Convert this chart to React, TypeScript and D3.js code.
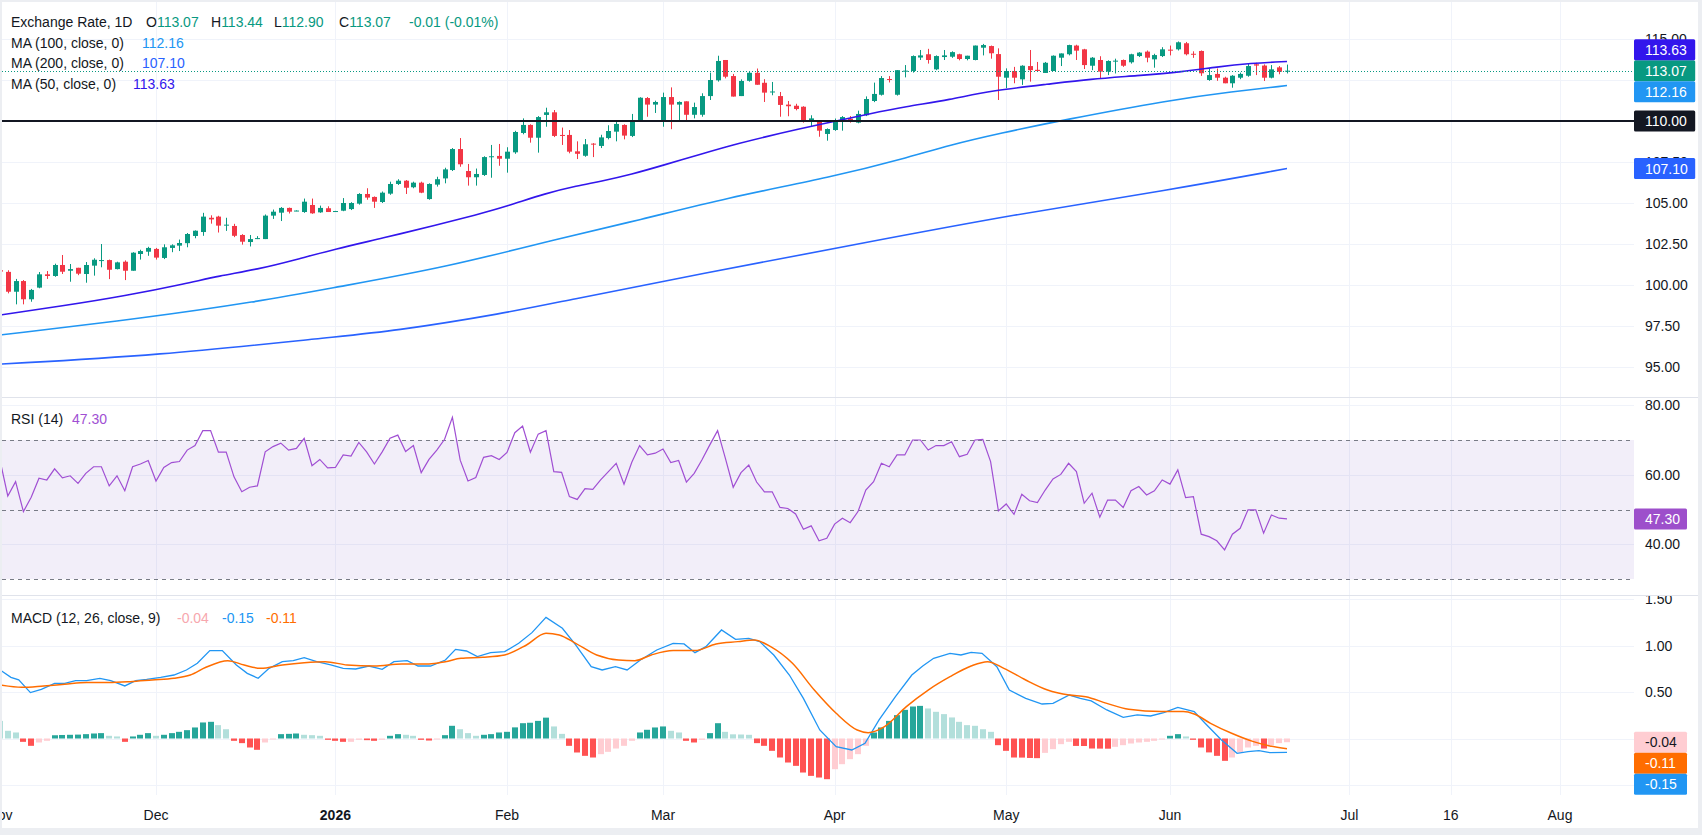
import { useEffect, useRef } from 'react';
import * as d3 from 'd3';

// daily candles, bar 0 = 3 Nov 2025
const opens = [
  100.9, 100.8, 99.59, 100.24, 99.13, 99.84, 100.65, 100.55, 101.22, 100.87,
  101.05, 100.67, 101.18, 101.48, 101.52, 100.97, 101.42, 100.87, 101.89, 102.03,
  102.2, 101.65, 102.26, 102.4, 102.55, 102.99, 103.23, 104.1, 104.17, 103.64,
  103.6, 103.05, 102.62, 102.83, 102.8, 104.23, 104.41, 104.7, 104.52, 104.45,
  104.88, 104.43, 104.68, 104.49, 104.53, 104.63, 104.96, 105.55, 105.37, 105.06,
  105.57, 106.16, 106.36, 105.96, 106.24, 105.24, 106.12, 106.5, 107.01, 108.29,
  106.95, 106.57, 106.71, 107.8, 107.87, 107.7, 108.09, 109.27, 109.76, 108.98,
  110.37, 110.53, 109.15, 109.15, 108.15, 107.88, 108.62, 108.48, 108.96, 109.35,
  109.76, 109.09, 110.0, 111.4, 111.0, 110.0, 111.46, 111.0, 111.2, 110.38,
  110.38, 111.52, 112.48, 113.72, 112.74, 111.52, 112.45, 112.94, 112.33, 111.78,
  111.52, 111.0, 110.93, 110.87, 109.96, 110.0, 109.21, 109.45, 109.94, 110.14,
  109.9, 110.35, 111.22, 111.6, 112.56, 111.6, 113.05, 113.05, 113.87, 114.07,
  113.15, 113.9, 113.92, 114.07, 113.78, 113.72, 114.47, 114.57, 114.08, 112.64,
  113.05, 112.54, 113.35, 113.12, 112.93, 113.05, 113.86, 114.07, 114.6, 114.37,
  113.37, 113.72, 113.01, 113.66, 113.72, 113.58, 113.96, 114.23, 113.76, 113.96,
  114.35, 114.37, 114.74, 114.1, 114.27, 112.5, 112.87, 112.64, 112.3, 112.64,
  112.76, 113.46, 113.38, 112.64, 113.27, 113.07,
];
const highs = [
  100.95, 100.9, 100.37, 100.3, 99.76, 100.79, 100.85, 101.3, 101.83, 101.28,
  101.05, 101.4, 101.63, 102.5, 101.55, 101.42, 101.5, 102.0, 102.15, 102.33,
  102.26, 102.48, 102.48, 102.77, 103.17, 103.33, 104.4, 104.25, 104.22, 104.1,
  103.73, 103.1, 103.05, 102.98, 104.3, 104.6, 104.75, 104.72, 104.55, 105.27,
  105.27, 104.84, 104.8, 104.52, 105.3, 105.05, 105.6, 105.9, 105.4, 105.7,
  106.3, 106.45, 106.4, 106.3, 106.3, 106.2, 106.6, 107.15, 108.35, 108.96,
  107.38, 107.1, 107.85, 108.54, 108.6, 108.4, 109.4, 110.16, 109.8, 110.3,
  110.81, 110.67, 109.6, 109.45, 108.76, 108.9, 108.65, 109.16, 109.74, 110.06,
  109.8, 110.43, 111.45, 111.46, 111.24, 111.73, 112.05, 111.2, 111.2, 111.12,
  111.69, 112.95, 113.98, 113.72, 112.87, 112.54, 113.05, 113.2, 112.55, 112.38,
  111.77, 111.22, 111.05, 110.9, 110.35, 110.05, 109.55, 110.15, 110.3, 110.3,
  110.63, 111.5, 112.34, 112.74, 112.74, 113.1, 113.41, 114.0, 114.33, 114.4,
  114.0, 114.33, 114.25, 114.1, 113.98, 114.6, 114.7, 114.6, 114.43, 113.21,
  113.3, 113.4, 114.33, 113.6, 113.6, 114.0, 114.12, 114.65, 114.65, 114.4,
  113.9, 113.95, 113.7, 113.8, 113.75, 114.1, 114.2, 114.3, 114.1, 114.5,
  114.6, 114.85, 114.82, 114.25, 114.3, 113.17, 113.2, 112.7, 112.8, 112.95,
  113.5, 113.55, 113.45, 113.41, 113.35, 113.44,
];
const lows = [
  100.75, 99.49, 98.82, 98.82, 98.98, 99.8, 100.37, 100.5, 100.67, 100.2,
  100.6, 100.14, 100.57, 101.08, 100.36, 100.95, 100.3, 100.87, 101.55, 101.78,
  101.55, 101.58, 102.0, 102.07, 102.3, 102.85, 103.0, 103.74, 103.2, 103.3,
  102.92, 102.46, 102.35, 102.8, 102.8, 104.03, 103.9, 104.36, 104.5, 104.4,
  104.34, 104.4, 104.45, 104.47, 104.5, 104.57, 104.9, 105.2, 104.7, 105.0,
  105.5, 106.1, 105.55, 105.9, 105.6, 105.2, 106.0, 106.2, 106.95, 107.21,
  106.06, 106.06, 106.65, 106.54, 107.27, 106.85, 108.0, 109.19, 108.68, 108.07,
  109.65, 109.02, 108.54, 108.03, 107.68, 107.82, 107.8, 108.35, 108.88, 108.76,
  108.88, 109.02, 109.95, 110.26, 110.49, 109.65, 109.5, 109.96, 110.06, 110.16,
  110.26, 111.28, 112.4, 112.6, 111.49, 111.52, 112.4, 112.21, 111.16, 111.57,
  110.26, 110.29, 110.65, 109.9, 109.65, 109.04, 108.8, 109.4, 109.41, 109.9,
  109.86, 110.3, 111.15, 111.55, 112.35, 111.55, 112.66, 112.95, 113.72, 113.5,
  113.1, 113.72, 113.85, 113.7, 113.7, 113.7, 114.0, 113.8, 111.28, 112.0,
  112.3, 112.2, 112.4, 113.0, 112.93, 113.05, 113.35, 114.0, 113.72, 113.17,
  113.1, 112.6, 112.8, 112.9, 113.3, 113.5, 113.9, 113.58, 113.25, 113.9,
  114.0, 114.3, 114.0, 113.85, 112.75, 112.45, 112.45, 112.3, 112.03, 112.55,
  112.7, 112.8, 112.44, 112.6, 112.85, 112.9,
];
const closes = [
  100.82, 99.59, 100.24, 99.13, 99.7, 100.65, 100.55, 101.22, 100.81, 100.97,
  100.69, 101.22, 101.54, 101.52, 100.93, 101.38, 100.87, 101.97, 102.07, 102.26,
  101.67, 102.3, 102.42, 102.56, 103.11, 103.31, 104.17, 104.0, 103.62, 103.68,
  103.0, 102.64, 102.8, 102.86, 104.23, 104.47, 104.7, 104.47, 104.54, 105.08,
  104.37, 104.7, 104.45, 104.51, 105.0, 105.0, 105.55, 105.33, 105.08, 105.63,
  106.16, 106.36, 105.93, 106.24, 105.63, 106.16, 106.45, 107.05, 108.29, 107.36,
  106.57, 106.77, 107.8, 107.85, 107.7, 108.13, 109.33, 109.76, 108.98, 110.24,
  110.53, 109.09, 109.13, 108.13, 108.0, 108.58, 108.6, 109.0, 109.39, 109.82,
  109.11, 110.06, 111.42, 111.0, 111.16, 111.46, 111.0, 111.16, 110.38, 110.85,
  111.52, 112.5, 113.66, 112.7, 111.49, 112.44, 112.94, 112.21, 111.73, 111.8,
  110.98, 110.9, 110.73, 109.96, 110.16, 109.41, 109.51, 110.04, 110.24, 110.02,
  110.43, 111.34, 111.65, 112.62, 112.5, 113.1, 113.07, 113.96, 114.0, 113.72,
  113.96, 114.0, 114.2, 113.78, 113.98, 114.6, 114.63, 114.13, 112.7, 113.05,
  112.64, 113.37, 113.1, 113.05, 113.55, 113.98, 114.12, 114.63, 114.29, 113.41,
  113.86, 113.01, 113.66, 113.68, 113.37, 114.07, 114.17, 113.86, 114.02, 114.37,
  114.33, 114.8, 114.07, 114.05, 112.91, 112.8, 112.64, 112.3, 112.76, 112.87,
  113.35, 113.38, 112.64, 113.15, 113.0, 113.07,
];

// moving averages, [bar, value]
const ma50 = [
  [0, 98.17], [8, 98.72], [16, 99.33], [24, 100.1], [28, 100.55], [33, 100.95],
  [38, 101.55], [43, 102.2], [49, 102.85], [56, 103.66], [61, 104.27], [65, 104.8],
  [70, 105.6], [74, 106.05], [77, 106.32], [81, 106.75], [85, 107.3], [90, 108.0],
  [94, 108.55], [98, 109.02], [102, 109.47], [107, 109.98], [111.4, 110.43], [116, 110.87],
  [121.8, 111.3], [127, 111.85], [134.6, 112.26], [139.7, 112.55], [145.8, 112.76],
  [151.7, 113.0], [156, 113.3], [160.3, 113.52], [165, 113.63],
];
const ma100 = [
  [0, 96.95], [18.3, 97.97], [33, 98.98], [43, 99.86], [57.2, 101.08], [71.8, 102.85],
  [82, 103.96], [93, 105.3], [106.8, 106.6], [116, 107.72], [121.8, 108.54],
  [128.2, 109.25], [136.3, 110.06], [150, 111.28], [158, 111.79], [165, 112.16],
];
const ma200 = [
  [0, 95.18], [20, 95.69], [43, 96.85], [50, 97.15], [65, 98.3], [72, 99.0],
  [90, 100.7], [110, 102.5], [130, 104.3], [150, 105.8], [165, 107.1],
];

const rsiValues = [
  64.2, 53.9, 58.0, 49.4, 53.5, 59.0, 58.5, 61.7, 59.1, 59.7,
  57.5, 60.4, 62.3, 62.3, 56.8, 59.7, 55.4, 62.3, 63.1, 64.1,
  58.2, 62.1, 63.5, 63.8, 67.1, 68.4, 72.7, 72.7, 66.5, 66.5,
  59.4, 55.1, 56.4, 56.8, 66.6, 68.1, 69.1, 67.1, 67.6, 70.5,
  62.6, 64.4, 62.0, 62.1, 65.7, 65.4, 69.3, 66.6, 63.1, 66.6,
  70.5, 71.4, 66.7, 68.4, 60.6, 64.4, 67.1, 70.2, 76.5, 64.2,
  58.2, 59.2, 65.0, 65.5, 64.4, 66.4, 72.1, 74.0, 66.5, 71.7,
  72.7, 60.9, 60.7, 53.7, 52.9, 56.0, 55.8, 58.5, 60.9, 63.3,
  57.3, 63.6, 68.4, 65.7, 66.2, 67.4, 63.5, 64.1, 57.9, 60.4,
  64.3, 68.6, 72.7, 64.7, 56.4, 60.6, 62.8, 57.9, 55.1, 55.1,
  50.6, 50.3, 48.7, 44.3, 45.3, 41.0, 41.7, 45.8, 47.5, 46.2,
  49.4, 55.6, 58.0, 63.3, 62.3, 65.7, 65.7, 70.0, 70.0, 67.1,
  68.4, 68.4, 69.5, 65.2, 65.9, 70.0, 70.2, 63.8, 49.6, 51.6,
  48.6, 54.4, 52.5, 52.0, 55.6, 58.8, 60.1, 63.3, 60.9, 51.8,
  54.7, 47.8, 52.7, 52.7, 50.6, 55.4, 56.6, 54.2, 55.4, 58.5,
  57.3, 61.4, 53.4, 53.7, 42.9, 42.2, 41.0, 38.4, 42.9, 44.6,
  49.9, 49.9, 43.2, 48.4, 47.5, 47.3,
];

const macdLine = [
  [0, 0.739], [1.4, 0.66], [2.4, 0.632], [3.9, 0.495], [5.3, 0.53], [7, 0.595], [8.3, 0.595],
  [9.7, 0.624], [11.1, 0.624], [12.8, 0.649], [14.2, 0.624], [16, 0.567], [17.4, 0.624],
  [18.8, 0.638], [20.6, 0.66], [22.3, 0.685], [23.9, 0.739], [25.3, 0.811], [26.9, 0.948],
  [28.5, 0.948], [30.3, 0.793], [31.7, 0.703], [33.1, 0.649], [34.5, 0.757], [36.2, 0.829],
  [37.6, 0.84], [39, 0.872], [40.6, 0.829], [42.4, 0.793], [44, 0.757], [45.6, 0.75],
  [47.3, 0.782], [49, 0.746], [50.5, 0.829], [52.2, 0.84], [53.6, 0.782], [55.2, 0.782],
  [57.1, 0.847], [58.4, 0.962], [59.8, 0.944], [61.2, 0.883], [62.9, 0.926], [64.7, 0.937],
  [66.5, 1.027], [68.2, 1.142], [70, 1.307], [72.1, 1.189], [73.8, 1.009], [75.8, 0.775],
  [77.2, 0.739], [78.9, 0.775], [80.4, 0.739], [82.1, 0.847], [84.2, 0.955], [86.3, 1.027],
  [87.7, 1.02], [89.1, 0.926], [90.5, 0.991], [92.5, 1.171], [94.3, 1.07], [96, 1.081],
  [97.4, 1.045], [99.2, 0.901], [101.2, 0.685], [103, 0.433], [105.1, 0.092], [107.2, -0.088],
  [109.2, -0.124], [110.9, -0.052], [112.7, 0.2], [114.8, 0.451], [116.9, 0.685],
  [118.3, 0.782], [119.7, 0.865], [121.8, 0.919], [123.2, 0.901], [124.5, 0.93],
  [125.9, 0.919], [127.8, 0.775], [129.4, 0.523], [131.5, 0.433], [133.6, 0.372],
  [135, 0.379], [137.1, 0.469], [138.5, 0.433], [139.9, 0.405], [141.9, 0.308], [144, 0.228],
  [145.8, 0.254], [147.5, 0.243], [149.2, 0.279], [151, 0.336], [153.1, 0.29], [154.5, 0.164],
  [156.6, -0.016], [158.6, -0.16], [160, -0.142], [161.4, -0.131], [162.8, -0.153], [165, -0.15],
];
const signalLine = [
  [0, 0.577], [2.8, 0.552], [5.6, 0.567], [8.3, 0.585], [11.1, 0.603], [13.9, 0.603],
  [16.7, 0.613], [19.5, 0.631], [22.3, 0.649], [24.4, 0.685], [26.4, 0.768], [29.2, 0.84],
  [31.3, 0.793], [33.4, 0.757], [36.2, 0.793], [39, 0.818], [41.7, 0.829], [44.5, 0.793],
  [48, 0.782], [51.5, 0.804], [55, 0.804], [57.1, 0.829], [59.1, 0.865], [61.9, 0.876],
  [64.7, 0.901], [67.5, 1.009], [70, 1.135], [71.7, 1.117], [73.8, 1.027], [76.5, 0.901],
  [79.3, 0.847], [81.4, 0.84], [83.5, 0.901], [86.3, 0.948], [89.1, 0.948], [91.8, 1.02],
  [94.6, 1.045], [96.7, 1.063], [98.8, 0.991], [101.6, 0.811], [104.4, 0.523], [107.2, 0.272],
  [109.9, 0.092], [111.3, 0.063], [113.4, 0.128], [116.2, 0.344], [119, 0.523], [121.8, 0.667],
  [124.5, 0.782], [126.6, 0.829], [128.7, 0.757], [131.5, 0.631], [134.3, 0.523],
  [137.1, 0.469], [139.2, 0.451], [141.9, 0.379], [144.7, 0.315], [148.9, 0.29],
  [151.7, 0.29], [153.1, 0.264], [155.2, 0.164], [157.9, 0.056], [160.7, -0.034],
  [162.8, -0.081], [165, -0.11],
];
const histValues = [
  0.19, 0.083, 0.065, -0.036, -0.079, -0.043, -0.025, 0.035, 0.038, 0.04,
  0.042, 0.047, 0.054, 0.058, 0.029, 0.022, -0.036, 0.022, 0.04, 0.058,
  0.029, 0.04, 0.058, 0.072, 0.09, 0.119, 0.173, 0.18, 0.144, 0.1,
  -0.025, -0.05, -0.097, -0.122, -0.043, -0.007, 0.047, 0.05, 0.054, 0.04,
  0.036, 0.029, -0.014, -0.025, -0.036, -0.036, -0.014, -0.018, -0.025, -0.014,
  0.029, 0.047, 0.04, 0.029, -0.014, -0.022, -0.007, 0.036, 0.137, 0.1,
  0.058, 0.029, 0.04, 0.047, 0.065, 0.072, 0.12, 0.165, 0.17, 0.19,
  0.225, 0.13, 0.05, -0.079, -0.151, -0.187, -0.205, -0.169, -0.144, -0.108,
  -0.079, -0.025, 0.065, 0.094, 0.119, 0.13, 0.083, 0.065, -0.025, -0.043,
  -0.014, 0.058, 0.165, 0.072, 0.045, 0.043, 0.04, -0.05, -0.079, -0.133,
  -0.205, -0.259, -0.295, -0.367, -0.403, -0.421, -0.439, -0.331, -0.277, -0.223,
  -0.169, -0.079, 0.065, 0.119, 0.19, 0.252, 0.309, 0.345, 0.352, 0.324,
  0.288, 0.263, 0.227, 0.18, 0.144, 0.137, 0.1, 0.072, -0.072, -0.133,
  -0.205, -0.206, -0.21, -0.212, -0.155, -0.115, -0.061, -0.036, -0.08, -0.081,
  -0.108, -0.109, -0.11, -0.09, -0.072, -0.054, -0.043, -0.036, -0.025, -0.01,
  0.029, 0.047, 0.022, -0.014, -0.097, -0.15, -0.187, -0.241, -0.205, -0.151,
  -0.097, -0.079, -0.108, -0.072, -0.05, -0.04,
];

const timeTickBars = [0, 20, 43, 65, 85, 107, 129, 150, 173, 186, 200];
const timeTickLabels = ['Nov', 'Dec', '2026', 'Feb', 'Mar', 'Apr', 'May', 'Jun', 'Jul', '16', 'Aug'];
const priceTicks = [95, 97.5, 100, 102.5, 105, 107.5, 110, 112.5, 115];
const rsiTicks = [40, 60, 80];
const rsiLevels = [30, 50, 70];
const macdTicks = [-0.5, 0, 0.5, 1, 1.5];

const FONT = "'Liberation Sans', Arial, sans-serif";
const TEXT = '#131722';
const UP = '#089981';
const DOWN = '#f23645';
const MA50_C = '#3216ec';
const MA100_C = '#2196f3';
const MA200_C = '#2962ff';
const RSI_C = '#a04fd3';

export default function App() {
  const svgRef = useRef<SVGSVGElement>(null);

  useEffect(() => {
    if (!svgRef.current) return;
    const svg = d3.select(svgRef.current);
    svg.selectAll('*').remove();

    const W = 1702;
    const H = 835;
    const left = 2;
    const right = 1634;
    const panes = { price: [2, 398], rsi: [398, 596], macd: [596, 795] };

    const x = d3.scaleLinear().domain([0, 200]).range([0, 1560]);
    const yP = d3.scaleLinear().domain([95, 115]).range([367, 39]);
    const yR = d3.scaleLinear().domain([30, 70]).range([579, 440]);
    const yM = d3.scaleLinear().domain([0, 1]).range([738.5, 645.8]);

    svg.append('rect').attr('width', W).attr('height', H).attr('fill', '#eceef2');
    svg.append('rect').attr('x', left).attr('y', 2).attr('width', 1696).attr('height', 826).attr('fill', '#fff');

    const defs = svg.append('defs');
    Object.entries(panes).forEach(([k, [t, b]]) => {
      defs.append('clipPath').attr('id', `clip-${k}`)
        .append('rect').attr('x', left).attr('y', t).attr('width', right - left).attr('height', b - t);
    });
    defs.append('clipPath').attr('id', 'clip-macd-axis')
      .append('rect').attr('x', 1634).attr('y', 596).attr('width', 70).attr('height', 200);

    // grid
    const grid = svg.append('g').attr('stroke', '#f0f3fa').attr('stroke-width', 1);
    timeTickBars.forEach(b => {
      const gx = Math.round(x(b)) + 0.5;
      grid.append('line').attr('x1', gx).attr('x2', gx).attr('y1', 2).attr('y2', 795);
    });
    const hLine = (y: number) => {
      const gy = Math.round(y) + 0.5;
      grid.append('line').attr('x1', left).attr('x2', right).attr('y1', gy).attr('y2', gy);
    };
    priceTicks.forEach(v => hLine(yP(v)));
    rsiTicks.forEach(v => hLine(yR(v)));
    macdTicks.forEach(v => hLine(yM(v)));

    // price pane
    const pg = svg.append('g').attr('clip-path', 'url(#clip-price)');
    closes.forEach((c, i) => {
      const o = opens[i];
      const col = c >= o ? UP : DOWN;
      const cx = Math.round(x(i));
      pg.append('line')
        .attr('x1', cx + 0.5).attr('x2', cx + 0.5)
        .attr('y1', yP(highs[i])).attr('y2', yP(lows[i]))
        .attr('stroke', col).attr('stroke-width', 1);
      const top = yP(Math.max(o, c));
      const h = Math.max(1, yP(Math.min(o, c)) - top);
      pg.append('rect')
        .attr('x', cx - 2).attr('y', top).attr('width', 5).attr('height', h)
        .attr('fill', col);
    });

    const maLine = d3.line<number[]>()
      .x(d => x(d[0])).y(d => yP(d[1]))
      .curve(d3.curveBasis);
    [[ma200, MA200_C], [ma100, MA100_C], [ma50, MA50_C]].forEach(([data, col]) => {
      pg.append('path').attr('d', maLine(data as number[][]))
        .attr('fill', 'none').attr('stroke', col as string).attr('stroke-width', 1.6);
    });

    pg.append('line')
      .attr('x1', left).attr('x2', right).attr('y1', yP(110)).attr('y2', yP(110))
      .attr('stroke', TEXT).attr('stroke-width', 2);
    const last = closes[closes.length - 1];
    pg.append('line')
      .attr('x1', left).attr('x2', right)
      .attr('y1', Math.round(yP(last)) + 0.5).attr('y2', Math.round(yP(last)) + 0.5)
      .attr('stroke', UP).attr('stroke-width', 1).attr('stroke-dasharray', '1,2');

    // RSI pane
    const rg = svg.append('g').attr('clip-path', 'url(#clip-rsi)');
    rg.append('rect')
      .attr('x', left).attr('width', right - left)
      .attr('y', yR(70)).attr('height', yR(30) - yR(70))
      .attr('fill', 'rgba(126, 87, 194, 0.1)');
    rsiLevels.forEach(v => {
      rg.append('line')
        .attr('x1', left).attr('x2', right)
        .attr('y1', Math.round(yR(v)) + 0.5).attr('y2', Math.round(yR(v)) + 0.5)
        .attr('stroke', '#787b86').attr('stroke-dasharray', '4,4');
    });
    rg.append('path')
      .attr('d', d3.line<number>().x((_, i) => x(i)).y(d => yR(d))(rsiValues))
      .attr('fill', 'none').attr('stroke', RSI_C).attr('stroke-width', 1.2);

    // MACD pane
    const mg = svg.append('g').attr('clip-path', 'url(#clip-macd)');
    histValues.forEach((h, i) => {
      const prev = i > 0 ? histValues[i - 1] : Infinity;
      let col;
      if (h >= 0) col = h > prev ? '#26a69a' : '#b2dfdb';
      else col = h < prev ? '#ff5252' : '#ffcdd2';
      const y0 = yM(0);
      const y1 = yM(h);
      mg.append('rect')
        .attr('x', Math.round(x(i)) - 3).attr('width', 6)
        .attr('y', Math.min(y0, y1)).attr('height', Math.max(1, Math.abs(y1 - y0)))
        .attr('fill', col);
    });
    const mLine = d3.line<number[]>().x(d => x(d[0])).y(d => yM(d[1]));
    mg.append('path').attr('d', mLine(macdLine))
      .attr('fill', 'none').attr('stroke', '#2196f3').attr('stroke-width', 1.3);
    mg.append('path').attr('d', mLine.curve(d3.curveMonotoneX)(signalLine))
      .attr('fill', 'none').attr('stroke', '#ff6d00').attr('stroke-width', 1.5);

    // separators
    [398, 596].forEach(y => {
      svg.append('line').attr('x1', left).attr('x2', 1698).attr('y1', y - 0.5).attr('y2', y - 0.5)
        .attr('stroke', '#e0e3eb').attr('stroke-width', 1);
    });

    // value labels (stacked around an anchor)
    type Lab = { v: number; y: number; bg: string; fg: string; text: string; anchor?: boolean };
    const stack = (labs: Lab[], h: number) => {
      const a = labs.find(l => l.anchor)!;
      const above = labs.filter(l => !l.anchor && l.y <= a.y).sort((p, q) => q.y - p.y);
      const below = labs.filter(l => !l.anchor && l.y > a.y).sort((p, q) => p.y - q.y);
      let prev = a.y;
      above.forEach(l => { l.y = Math.min(l.y, prev - h); prev = l.y; });
      prev = a.y;
      below.forEach(l => { l.y = Math.max(l.y, prev + h); prev = l.y; });
      return labs;
    };
    const mk = (v: number, y: number, bg: string, fg: string, anchor = false): Lab =>
      ({ v, y, bg, fg, anchor, text: v.toFixed(2) });

    const allLabs = [
      ...stack([
        mk(last, yP(last), UP, '#fff', true),
        mk(113.63, yP(113.63), MA50_C, '#fff'),
        mk(112.16, yP(112.16), MA100_C, '#fff'),
        mk(110, yP(110), TEXT, '#fff'),
        mk(107.1, yP(107.1), MA200_C, '#fff'),
      ], 21),
      mk(47.3, yR(47.3), '#9d4fcb', '#fff', true),
      ...stack([
        mk(-0.04, yM(-0.04), '#ffcdd2', TEXT, true),
        mk(-0.11, yM(-0.11), '#ff6d00', '#fff'),
        mk(-0.15, yM(-0.15), '#2196f3', '#fff'),
      ], 21),
    ];
    const covered = (ty: number) => allLabs.some(l => Math.abs(l.y - ty) < 4);

    // axis ticks (skip the ones fully hidden under a value label)
    const axis = svg.append('g')
      .attr('font-family', FONT).attr('font-size', 14).attr('fill', TEXT)
      .attr('dominant-baseline', 'central');
    priceTicks.forEach(v => {
      const ty = yP(v);
      if (!covered(ty) && !(ty > 60 && ty < 102)) {
        axis.append('text').attr('x', 1645).attr('y', ty).text(v.toFixed(2));
      }
    });
    rsiTicks.forEach(v => axis.append('text').attr('x', 1645).attr('y', yR(v)).text(v.toFixed(2)));
    macdTicks.forEach(v => {
      const ty = yM(v);
      if (!covered(ty) && !(ty > 731 && ty < 796)) {
        axis.append('text').attr('x', 1645).attr('y', ty)
          .attr('clip-path', 'url(#clip-macd-axis)').text(v.toFixed(2));
      }
    });

    allLabs.forEach(l => {
      const w = 12 + l.text.length * 8.2;
      svg.append('rect')
        .attr('x', 1634).attr('y', l.y - 10.5).attr('width', w).attr('height', 21)
        .attr('rx', 1.5).attr('fill', l.bg);
      svg.append('text')
        .attr('x', 1645).attr('y', l.y)
        .attr('font-family', FONT).attr('font-size', 14)
        .attr('dominant-baseline', 'central').attr('fill', l.fg)
        .text(l.text);
    });

    // time axis
    const tg = svg.append('g')
      .attr('font-family', FONT).attr('font-size', 14).attr('fill', TEXT)
      .attr('text-anchor', 'middle').attr('dominant-baseline', 'central');
    timeTickBars.forEach((b, i) => {
      tg.append('text').attr('x', x(b)).attr('y', 815)
        .attr('font-weight', timeTickLabels[i] === '2026' ? 'bold' : 'normal')
        .text(timeTickLabels[i]);
    });
    svg.append('rect').attr('x', 0).attr('y', 0).attr('width', left).attr('height', H).attr('fill', '#eceef2');

    // legends: [text, colour, x]
    const legend = (y: number, parts: [string, string, number?][]) => {
      const t = svg.append('text')
        .attr('x', 11).attr('y', y)
        .attr('font-family', FONT).attr('font-size', 14)
        .attr('dominant-baseline', 'central');
      parts.forEach(([s, col, px]) => {
        const sp = t.append('tspan').attr('fill', col).text(s);
        if (px !== undefined) sp.attr('x', px);
      });
    };
    legend(22, [
      ['Exchange Rate, 1D', TEXT], ['O', TEXT, 146], ['113.07', UP],
      ['H', TEXT, 211], ['113.44', UP], ['L', TEXT, 274], ['112.90', UP],
      ['C', TEXT, 339], ['113.07', UP], ['-0.01 (-0.01%)', UP, 409],
    ]);
    legend(42.5, [['MA (100, close, 0)', TEXT], ['112.16', MA100_C, 142]]);
    legend(63, [['MA (200, close, 0)', TEXT], ['107.10', MA200_C, 142]]);
    legend(83.5, [['MA (50, close, 0)', TEXT], ['113.63', MA50_C, 133]]);
    legend(418.5, [['RSI (14)', TEXT], ['47.30', RSI_C, 72]]);
    legend(617.5, [
      ['MACD (12, 26, close, 9)', TEXT], ['-0.04', '#f7a7ae', 177],
      ['-0.15', '#2196f3', 222], ['-0.11', '#ff6d00', 266],
    ]);
  }, []);

  return (
    <div style={{ position: 'absolute', left: 0, top: 0 }}>
      <svg ref={svgRef} width={1702} height={835} style={{ display: 'block' }}></svg>
    </div>
  );
}
